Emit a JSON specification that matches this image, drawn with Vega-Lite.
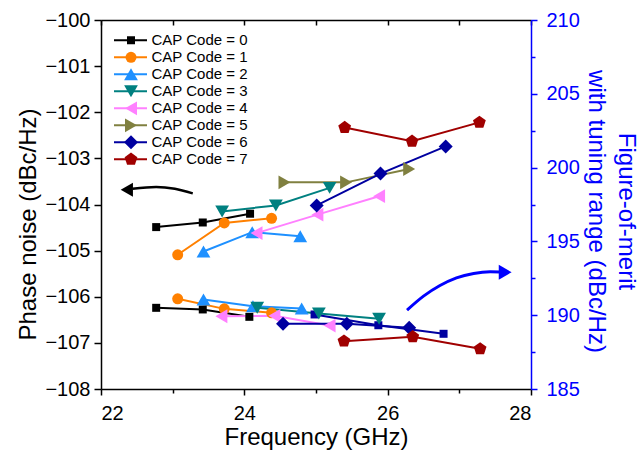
{
  "$schema": "https://vega.github.io/schema/vega-lite/v6.json",
  "width": 430,
  "height": 369,
  "autosize": {"type": "none"},
  "padding": {"left": 101, "top": 20, "right": 110, "bottom": 70},
  "background": "white",
  "config": {
    "view": {"stroke": null},
    "font": "Liberation Sans",
    "axis": {
      "grid": false,
      "labelFont": "Liberation Sans",
      "titleFont": "Liberation Sans",
      "labelFontSize": 20,
      "titleFontSize": 24,
      "titleFontWeight": "normal",
      "domainWidth": 1.5,
      "tickWidth": 1.5,
      "labelColor": "black",
      "titleColor": "black",
      "domainColor": "black",
      "tickColor": "black"
    },
    "legend": {"labelFont": "Liberation Sans", "labelFontSize": 15, "labelColor": "black"}
  },
  "datasets": {
    "pn": [
      {"cap": "CAP Code = 0", "f": 22.77, "pn": -104.49},
      {"cap": "CAP Code = 0", "f": 23.42, "pn": -104.39},
      {"cap": "CAP Code = 0", "f": 24.08, "pn": -104.2},
      {"cap": "CAP Code = 1", "f": 23.07, "pn": -105.09},
      {"cap": "CAP Code = 1", "f": 23.72, "pn": -104.4},
      {"cap": "CAP Code = 1", "f": 24.38, "pn": -104.3},
      {"cap": "CAP Code = 2", "f": 23.43, "pn": -105.02},
      {"cap": "CAP Code = 2", "f": 24.11, "pn": -104.6},
      {"cap": "CAP Code = 2", "f": 24.78, "pn": -104.69},
      {"cap": "CAP Code = 3", "f": 23.69, "pn": -104.15},
      {"cap": "CAP Code = 3", "f": 24.44, "pn": -104.02},
      {"cap": "CAP Code = 3", "f": 25.19, "pn": -103.64},
      {"cap": "CAP Code = 4", "f": 24.17, "pn": -104.62},
      {"cap": "CAP Code = 4", "f": 25.02, "pn": -104.22},
      {"cap": "CAP Code = 4", "f": 25.88, "pn": -103.82},
      {"cap": "CAP Code = 5", "f": 24.56, "pn": -103.52},
      {"cap": "CAP Code = 5", "f": 25.42, "pn": -103.52},
      {"cap": "CAP Code = 5", "f": 26.3, "pn": -103.23},
      {"cap": "CAP Code = 6", "f": 25.01, "pn": -104.02},
      {"cap": "CAP Code = 6", "f": 25.9, "pn": -103.33},
      {"cap": "CAP Code = 6", "f": 26.81, "pn": -102.74},
      {"cap": "CAP Code = 7", "f": 25.4, "pn": -102.33},
      {"cap": "CAP Code = 7", "f": 26.34, "pn": -102.63},
      {"cap": "CAP Code = 7", "f": 27.28, "pn": -102.22}
    ],
    "fom": [
      {"cap": "CAP Code = 0", "f": 22.77, "fom": 190.5},
      {"cap": "CAP Code = 0", "f": 23.42, "fom": 190.39},
      {"cap": "CAP Code = 0", "f": 24.07, "fom": 189.89},
      {"cap": "CAP Code = 1", "f": 23.07, "fom": 191.11},
      {"cap": "CAP Code = 1", "f": 23.72, "fom": 190.43},
      {"cap": "CAP Code = 1", "f": 24.38, "fom": 190.16},
      {"cap": "CAP Code = 2", "f": 23.43, "fom": 191.06},
      {"cap": "CAP Code = 2", "f": 24.12, "fom": 190.61},
      {"cap": "CAP Code = 2", "f": 24.8, "fom": 190.45},
      {"cap": "CAP Code = 3", "f": 24.18, "fom": 190.5},
      {"cap": "CAP Code = 3", "f": 25.04, "fom": 190.12},
      {"cap": "CAP Code = 3", "f": 25.88, "fom": 189.76},
      {"cap": "CAP Code = 4", "f": 23.68, "fom": 189.93},
      {"cap": "CAP Code = 4", "f": 24.42, "fom": 189.96},
      {"cap": "CAP Code = 4", "f": 25.19, "fom": 189.3},
      {"cap": "CAP Code = 6", "f": 24.54, "fom": 189.42},
      {"cap": "CAP Code = 6", "f": 25.43, "fom": 189.42},
      {"cap": "CAP Code = 6", "f": 26.3, "fom": 189.15},
      {"cap": "CAP Code = 7", "f": 25.39, "fom": 188.24},
      {"cap": "CAP Code = 7", "f": 26.35, "fom": 188.54},
      {"cap": "CAP Code = 7", "f": 27.29, "fom": 187.72}
    ],
    "fomExtra": [
      {"f": 24.98, "fom": 190.05},
      {"f": 25.87, "fom": 189.32},
      {"f": 26.78, "fom": 188.74}
    ],
    "arrowL": [
      {"f": 23.28, "pn": -103.76},
      {"f": 23.03, "pn": -103.66},
      {"f": 22.77, "pn": -103.62},
      {"f": 22.44, "pn": -103.66}
    ],
    "headL": [{"f": 22.36, "pn": -103.68}],
    "arrowR": [
      {"f": 26.27, "fom": 190.34},
      {"f": 26.5, "fom": 191.29},
      {"f": 26.73, "fom": 192.01},
      {"f": 26.96, "fom": 192.53},
      {"f": 27.2, "fom": 192.83},
      {"f": 27.43, "fom": 192.94},
      {"f": 27.57, "fom": 192.93}
    ],
    "headR": [{"f": 27.64, "fom": 192.91}]
  },
  "layer": [
    {
      "encoding": {
        "x": {
          "field": "f",
          "type": "quantitative",
          "scale": {"domain": [22, 28], "nice": false, "zero": false},
          "axis": {
            "orient": "bottom",
            "title": "Frequency (GHz)",
            "values": [22, 23, 24, 25, 26, 27, 28],
            "format": "d",
            "labelExpr": "datum.value % 2 === 0 ? datum.label : ''",
            "tickSize": {"condition": {"test": "datum.value % 2 === 0", "value": 6}, "value": 4},
            "labelPadding": 8,
            "titlePadding": 2
          }
        },
        "y": {
          "field": "pn",
          "type": "quantitative",
          "scale": {"domain": [-108, -100], "nice": false, "zero": false},
          "axis": {
            "orient": "left",
            "title": "Phase noise (dBc/Hz)",
            "values": [-108, -107.5, -107, -106.5, -106, -105.5, -105, -104.5, -104, -103.5, -103, -102.5, -102, -101.5, -101, -100.5, -100],
            "format": "d",
            "labelExpr": "datum.value % 1 === 0 ? datum.label : ''",
            "tickSize": {"condition": {"test": "datum.value % 1 === 0", "value": 7}, "value": 4},
            "labelPadding": 4,
            "titlePadding": 4,
            "titleY": 204
          }
        }
      },
      "layer": [
        {
          "data": {"name": "pn"},
          "mark": {"type": "line", "strokeWidth": 2},
          "encoding": {
            "stroke": {
              "field": "cap",
              "type": "nominal",
              "scale": {
                "domain": ["CAP Code = 0", "CAP Code = 1", "CAP Code = 2", "CAP Code = 3", "CAP Code = 4", "CAP Code = 5", "CAP Code = 6", "CAP Code = 7"],
                "range": ["#000000", "#FF8000", "#1E90FF", "#008080", "#FF80FF", "#808040", "#0000A0", "#A00000"]
              },
              "legend": {"orient": "top-left", "offset": 12, "title": null, "labelOpacity": 0, "symbolType": "stroke", "symbolSize": 1089, "symbolStrokeWidth": 2, "clipHeight": 16.6, "rowPadding": 0}
            }
          }
        },
        {
          "data": {"name": "pn"},
          "mark": {"type": "point", "filled": true, "opacity": 1},
          "encoding": {
            "fill": {
              "field": "cap",
              "type": "nominal",
              "scale": {"range": ["#000000", "#FF8000", "#1E90FF", "#008080", "#FF80FF", "#808040", "#0000A0", "#A00000"]},
              "legend": {"orient": "none", "legendX": 22.5, "legendY": 12, "title": null, "symbolStrokeWidth": 0, "symbolOpacity": 1, "labelOffset": 13, "clipHeight": 16.6, "rowPadding": 0}
            },
            "shape": {
              "field": "cap",
              "type": "nominal",
              "scale": {"range": ["square", "circle", "triangle-up", "triangle-down", "triangle-left", "triangle-right", "diamond", "M0,-1L0.951,-0.309L0.588,0.809L-0.588,0.809L-0.951,-0.309Z"]},
              "legend": {"orient": "none", "legendX": 22.5, "legendY": 12, "title": null, "symbolStrokeWidth": 0, "symbolOpacity": 1, "labelOffset": 13, "clipHeight": 16.6, "rowPadding": 0}
            },
            "size": {
              "field": "cap",
              "type": "nominal",
              "scale": {"type": "ordinal", "range": [64, 121, 190, 190, 190, 190, 196, 180]},
              "legend": {"orient": "none", "legendX": 22.5, "legendY": 12, "title": null, "symbolStrokeWidth": 0, "symbolOpacity": 1, "labelOffset": 13, "clipHeight": 16.6, "rowPadding": 0}
            }
          }
        },
        {
          "data": {"name": "arrowL"},
          "mark": {"type": "line", "color": "black", "strokeWidth": 2.5, "interpolate": "monotone"},
          "encoding": {}
        },
        {
          "data": {"name": "headL"},
          "mark": {"type": "point", "shape": "triangle-left", "filled": true, "color": "black", "size": 200, "opacity": 1},
          "encoding": {}
        }
      ]
    },
    {
      "encoding": {
        "x": {
          "field": "f",
          "type": "quantitative",
          "scale": {"domain": [22, 28], "nice": false, "zero": false},
          "axis": {
            "orient": "top",
            "title": null,
            "labels": false,
            "values": [22, 23, 24, 25, 26, 27, 28],
            "tickSize": -5
          }
        },
        "y": {
          "field": "fom",
          "type": "quantitative",
          "scale": {"domain": [185, 210], "nice": false, "zero": false},
          "axis": {
            "orient": "right",
            "title": ["Figure-of-merit", "with tuning range (dBc/Hz)"],
            "titleLineHeight": 30,
            "values": [185, 187.5, 190, 192.5, 195, 197.5, 200, 202.5, 205, 207.5, 210],
            "format": "d",
            "labelExpr": "datum.value % 5 === 0 ? datum.label : ''",
            "tickSize": {"condition": {"test": "datum.value % 5 === 0", "value": 6}, "value": 4},
            "labelPadding": 9,
            "titlePadding": 4,
            "titleY": 191,
            "domainColor": "#0000FF",
            "tickColor": "#0000FF",
            "labelColor": "#0000FF",
            "titleColor": "#0000FF"
          }
        }
      },
      "layer": [
        {
          "data": {"name": "fom"},
          "mark": {"type": "line", "strokeWidth": 2},
          "encoding": {
            "stroke": {
              "field": "cap",
              "type": "nominal",
              "scale": {
                "domain": ["CAP Code = 0", "CAP Code = 1", "CAP Code = 2", "CAP Code = 3", "CAP Code = 4", "CAP Code = 5", "CAP Code = 6", "CAP Code = 7"],
                "range": ["#000000", "#FF8000", "#1E90FF", "#008080", "#FF80FF", "#808040", "#0000A0", "#A00000"]
              },
              "legend": {"orient": "top-left", "offset": 12, "title": null, "labelOpacity": 0, "symbolType": "stroke", "symbolSize": 1089, "symbolStrokeWidth": 2, "clipHeight": 16.6, "rowPadding": 0}
            }
          }
        },
        {
          "data": {"name": "fomExtra"},
          "mark": {"type": "line", "strokeWidth": 2, "color": "#0000A0"},
          "encoding": {}
        },
        {
          "data": {"name": "fomExtra"},
          "mark": {"type": "point", "shape": "square", "filled": true, "color": "#0000A0", "size": 64, "opacity": 1},
          "encoding": {}
        },
        {
          "data": {"name": "fom"},
          "mark": {"type": "point", "filled": true, "opacity": 1},
          "encoding": {
            "fill": {
              "field": "cap",
              "type": "nominal",
              "scale": {"range": ["#000000", "#FF8000", "#1E90FF", "#008080", "#FF80FF", "#808040", "#0000A0", "#A00000"]},
              "legend": {"orient": "none", "legendX": 22.5, "legendY": 12, "title": null, "symbolStrokeWidth": 0, "symbolOpacity": 1, "labelOffset": 13, "clipHeight": 16.6, "rowPadding": 0}
            },
            "shape": {
              "field": "cap",
              "type": "nominal",
              "scale": {"range": ["square", "circle", "triangle-up", "triangle-down", "triangle-left", "triangle-right", "diamond", "M0,-1L0.951,-0.309L0.588,0.809L-0.588,0.809L-0.951,-0.309Z"]},
              "legend": {"orient": "none", "legendX": 22.5, "legendY": 12, "title": null, "symbolStrokeWidth": 0, "symbolOpacity": 1, "labelOffset": 13, "clipHeight": 16.6, "rowPadding": 0}
            },
            "size": {
              "field": "cap",
              "type": "nominal",
              "scale": {"type": "ordinal", "range": [64, 121, 190, 190, 190, 190, 196, 180]},
              "legend": {"orient": "none", "legendX": 22.5, "legendY": 12, "title": null, "symbolStrokeWidth": 0, "symbolOpacity": 1, "labelOffset": 13, "clipHeight": 16.6, "rowPadding": 0}
            }
          }
        },
        {
          "data": {"name": "arrowR"},
          "mark": {"type": "line", "color": "#0000FF", "strokeWidth": 3, "interpolate": "monotone"},
          "encoding": {}
        },
        {
          "data": {"name": "headR"},
          "mark": {"type": "point", "shape": "triangle-right", "filled": true, "color": "#0000FF", "size": 220, "opacity": 1},
          "encoding": {}
        }
      ]
    }
  ],
  "resolve": {"scale": {"y": "independent"}, "axis": {"x": "independent"}}
}
